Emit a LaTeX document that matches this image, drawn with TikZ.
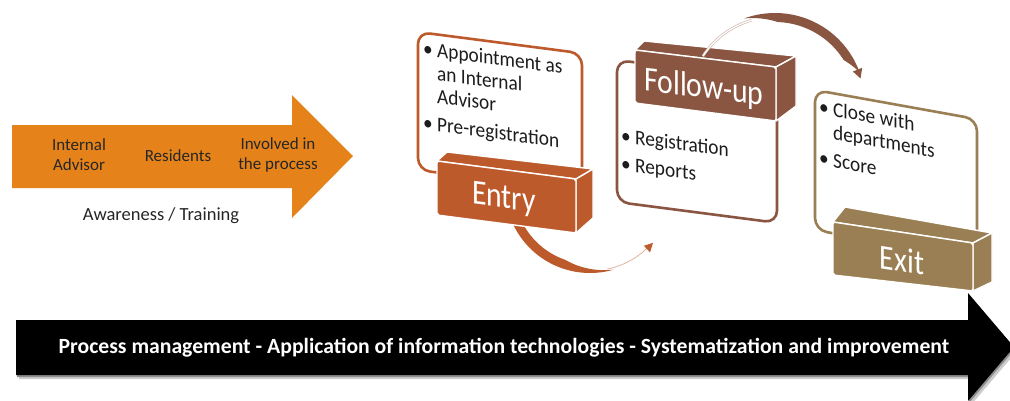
\documentclass[tikz,border=0pt]{standalone}
\usepackage{fontspec}
\setmainfont{Carlito}
\definecolor{arroworange}{HTML}{E5831A}
\definecolor{entrycol}{HTML}{BD5A2C}
\definecolor{followcol}{HTML}{8A5641}
\definecolor{exitcol}{HTML}{9B7F54}
\definecolor{labelgray}{HTML}{262626}
\definecolor{cardtext}{HTML}{1C1C1C}
\begin{document}
\begin{tikzpicture}[x=1pt,y=-1pt,
  orangelabel/.style={font=\fontsize{17}{20}\selectfont, text=labelgray, align=center, inner sep=0pt},
  card/.style={draw, line width=2.6pt, fill=white, rounded corners=12pt},
  cardline/.style={font=\fontsize{21}{23}\selectfont, text=cardtext, anchor=base west, inner sep=0pt,
    text height=14pt, text depth=4pt, xscale=0.92},
  boxface/.style={draw=white, line width=1.4pt, line join=round},
  boxlabel/.style={font=\fontsize{35}{40}\selectfont, text=white, anchor=base, inner sep=0pt, xscale=0.85},
  thinarc/.style={line width=0.8pt}
]
\useasboundingbox (0,0) rectangle (1010,400);
\fill[white] (0,0) rectangle (1010,400);

% awareness arrow
\fill[arroworange] (12,125) -- (292,125) -- (292,95) -- (353,156) -- (292,218) -- (292,188) -- (12,188) -- cycle;
\node[orangelabel] (ia) at (79,155) {Internal\\Advisor};
\node[orangelabel] (res) at (178,156) {Residents};
\node[orangelabel] (inv) at (278,155) {Involved in\\the process};
\node[orangelabel, font=\fontsize{18.5}{22}\selectfont] (aw) at (161,216) {Awareness / Training};

% entry card
\begin{scope}[shift={(418,32)}, yslant=-0.13, transform shape]
  \draw[card, draw=entrycol] (0,0) rectangle (164,138);
  \node[cardline] (eb1) at (5,23) {•};
  \node[cardline] (e1) at (19,23) {Appointment as};
  \node[cardline] (e2) at (19,46) {an Internal};
  \node[cardline] (e3) at (19,69) {Advisor};
  \node[cardline] (eb2) at (5,97) {•};
  \node[cardline] (e4) at (19,97) {Pre-registration};
\end{scope}

% follow-up card
\begin{scope}[shift={(617,60)}, yslant=-0.13, transform shape]
  \draw[card, draw=followcol] (0,0) rectangle (160,142);
  \node[cardline] (fb1) at (4,82) {•};
  \node[cardline] (f1) at (18,82) {Registration};
  \node[cardline] (fb2) at (4,110) {•};
  \node[cardline] (f2) at (18,110) {Reports};
\end{scope}

% exit card
\begin{scope}[shift={(815,90)}, yslant=-0.18, transform shape]
  \draw[card, draw=exitcol] (0,0) rectangle (162,140);
  \node[cardline] (xb1) at (4,23) {•};
  \node[cardline] (x1) at (18,23) {Close with};
  \node[cardline] (x2) at (18,46) {departments};
  \node[cardline] (xb2) at (4,74) {•};
  \node[cardline] (x3) at (18,74) {Score};
\end{scope}

% curved arrow from entry to follow-up
\fill[entrycol] plot[domain=158:74,samples=50] ({590+85*cos(\x)},{188+85*sin(\x)})
  -- plot[domain=74:158,samples=50] ({590+(85-9*min(1,(\x-74)/35))*cos(\x)},{188+(85-9*min(1,(\x-74)/35))*sin(\x)}) -- cycle;
\draw[thinarc, entrycol!45] plot[domain=78:46,samples=20] ({590+83*cos(\x)},{188+83*sin(\x)});
\fill[entrycol] ({590+79*cos(47)},{188+79*sin(47)}) -- ({590+88*cos(47)},{188+88*sin(47)}) -- ({590+83.5*cos(41)},{188+83.5*sin(41)}) -- cycle;

% curved arrow from follow-up to exit (band)
\fill[followcol] plot[domain=250:340,samples=60] ({775+90*cos(\x)},{103+90*sin(\x)})
  -- plot[domain=340:250,samples=60] ({775+(90-9*min(1,(\x-250)/22)*min(1,(340-\x)/12))*cos(\x)},{103+(90-9*min(1,(\x-250)/22)*min(1,(340-\x)/12))*sin(\x)}) -- cycle;
\fill[followcol] ({775+84*cos(338)},{103+84*sin(338)}) -- ({775+94*cos(338)},{103+94*sin(338)}) -- ({775+89*cos(344)},{103+89*sin(344)}) -- cycle;

% entry box
\coordinate (eTL) at (437,161); \coordinate (eTR) at (576,179);
\coordinate (eBR) at (576,233); \coordinate (eBL) at (437,215);
\filldraw[boxface, fill=entrycol] (eTL) -- (447,152) -- (593,169) -- (eTR) -- cycle;
\filldraw[boxface, fill=entrycol] (eTR) -- (593,169) -- (593,218) -- (eBR) -- cycle;
\filldraw[boxface, fill=entrycol, rounded corners=2pt] (eTL) -- (eTR) -- (eBR) -- (eBL) -- cycle;
\begin{scope}[shift={(504,208)}, yslant=-0.13, transform shape]
  \node[boxlabel] (entry) at (0,0) {Entry};
\end{scope}

% follow-up box
\coordinate (fTL) at (635,50); \coordinate (fTR) at (776,67);
\coordinate (fBR) at (776,121); \coordinate (fBL) at (635,103);
\filldraw[boxface, fill=followcol] (fTL) -- (644,41) -- (796,56) -- (fTR) -- cycle;
\filldraw[boxface, fill=followcol] (fTR) -- (796,56) -- (796,106) -- (fBR) -- cycle;
\filldraw[boxface, fill=followcol, rounded corners=2pt] (fTL) -- (fTR) -- (fBR) -- (fBL) -- cycle;
\begin{scope}[shift={(704,98)}, yslant=-0.12, transform shape]
  \node[boxlabel] (follow) at (0,0) {Follow-up};
\end{scope}

% thin start of the upper arrow, over the follow-up box
\draw[followcol!40, line width=2.6pt] plot[domain=213:254,samples=30] ({775+86*cos(\x)},{103+86*sin(\x)});
\draw[white, line width=1.2pt] plot[domain=213:254,samples=30] ({775+86*cos(\x)},{103+86*sin(\x)});

% exit box
\coordinate (xTL) at (833,222); \coordinate (xTR) at (973,243);
\coordinate (xBR) at (973,291); \coordinate (xBL) at (833,275);
\filldraw[boxface, fill=exitcol] (xTL) -- (845,207) -- (992,233) -- (xTR) -- cycle;
\filldraw[boxface, fill=exitcol] (xTR) -- (992,233) -- (992,282) -- (xBR) -- cycle;
\filldraw[boxface, fill=exitcol, rounded corners=2pt] (xTL) -- (xTR) -- (xBR) -- (xBL) -- cycle;
\begin{scope}[shift={(902,272)}, yslant=-0.16, transform shape]
  \node[boxlabel] (exit) at (0,0) {Exit};
\end{scope}

% process management arrow with its shadow
\fill[black!20] (19,324) -- (971,324) -- (971,297) -- (1017,351) -- (971,405) -- (971,379) -- (19,379) -- cycle;
\fill[black!45] (17,322) -- (969,322) -- (969,295) -- (1015,349) -- (969,403) -- (969,377) -- (17,377) -- cycle;
\fill[black] (16,320) -- (968,320) -- (968,293) -- (1014,347) -- (968,401) -- (968,375) -- (16,375) -- cycle;
\node[font=\bfseries\fontsize{21.7}{25}\selectfont, text=white, inner sep=0pt] (banner) at (504,348)
  {Process management - Application of information technologies - Systematization and improvement};
\end{tikzpicture}
\end{document}
